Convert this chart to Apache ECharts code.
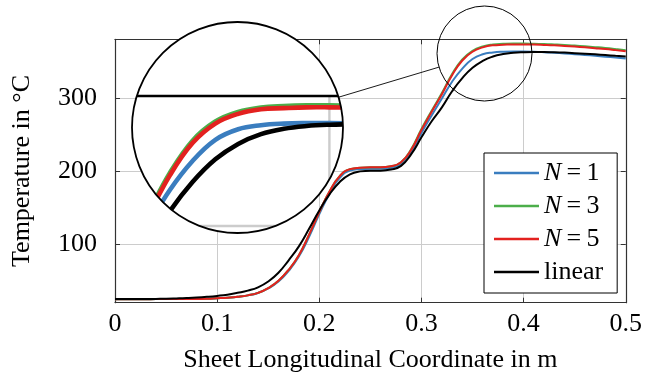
<!DOCTYPE html>
<html>
<head>
<meta charset="utf-8">
<script src="https://cdn.jsdelivr.net/npm/echarts@6/dist/echarts.min.js"></script>
<style>
  html, body { margin: 0; padding: 0; background: #fff; }
  #chart { width: 645px; height: 379px; }
</style>
</head>
<body>
<div id="chart"></div>
<script>
// sheet coordinate in m
var xCoord = [0, 0.01, 0.02, 0.03, 0.04, 0.05, 0.06, 0.07, 0.08, 0.09,
  0.10, 0.11, 0.12, 0.13, 0.14, 0.15, 0.16, 0.17, 0.18, 0.19,
  0.20, 0.21, 0.22, 0.23, 0.24, 0.25, 0.26, 0.27, 0.28, 0.29,
  0.30, 0.31, 0.32, 0.33, 0.34, 0.35, 0.36, 0.37, 0.38, 0.39,
  0.40, 0.41, 0.42, 0.43, 0.44, 0.45, 0.46, 0.47, 0.48, 0.49, 0.50];

// temperatures (degC)
var tN1 = [24.8, 24.8, 24.8, 24.8, 24.9, 24.9, 25, 25, 25.1, 25.3,
  26, 26.8, 28, 30, 33.3, 39.5, 49, 63.5, 83, 110,
  141, 169, 190.5, 200.5, 202.5, 203, 203, 204.5, 210, 226.5,
  252, 276, 299, 322, 340, 353, 359.5, 362, 363, 363.3,
  363.3, 363, 362.4, 361.6, 360.7, 359.7, 358.6, 357.5, 356.3, 355.1, 353.8];
var tN3 = [24.8, 24.8, 24.8, 24.8, 24.9, 24.9, 25, 25, 25.1, 25.3,
  26, 26.8, 28, 30, 33.5, 40, 50, 65, 85, 113,
  144, 172, 193, 202.5, 204.5, 205, 205, 206.5, 212, 230,
  257.5, 282.5, 306.5, 332.5, 352.5, 364.3, 370.2, 372.9, 373.8, 374.2,
  374.2, 374, 373.6, 373, 372.3, 371.4, 370.4, 369.3, 368.1, 366.7, 365.2];
var tN5 = [24.8, 24.8, 24.8, 24.8, 24.9, 24.9, 25, 25, 25.1, 25.3,
  26, 26.8, 28, 30, 33.5, 40, 50, 65, 85, 113,
  144, 172, 193, 202.5, 204.5, 205, 205, 206.5, 212, 229,
  256, 281, 305, 331, 351, 363, 369, 371.8, 372.5, 373,
  373, 372.8, 372.3, 371.7, 370.9, 370, 369, 367.9, 366.7, 365.2, 363.6];
var tLinear = [25, 25, 25, 25, 25.2, 25.4, 25.8, 26.3, 27, 28,
  29.3, 31, 33.5, 36.5, 41, 49, 61, 78, 97, 121,
  146, 168, 185, 195.5, 199.5, 200.5, 200.5, 202, 207, 223,
  246, 268, 287, 309, 327, 341, 350.5, 356.5, 359.8, 361.5,
  362.3, 362.6, 362.6, 362.3, 361.8, 361.1, 360.3, 359.4, 358.4, 357.4, 356.4];

var xTicks = [0, 0.1, 0.2, 0.3, 0.4, 0.5];
var yTicks = [100, 200, 300];

var seriesNames = ['N=1', 'N=3', 'N=5', 'linear'];
var seriesColors = ['#3a7dbf', '#4cae4a', '#e3211f', '#000000'];
var seriesTemps = [tN1, tN3, tN5, tLinear];

var FONT = 'Liberation Serif';
var AXIS_COLOR = '#333';
var GRID_COLOR = '#cccccc';

// plot frame and lens layout (pixels)
var plot = {left: 115, top: 39.3, width: 513.6, height: 263.4};
var xMin = 0, xMax = 0.5, yMin = 20, yMax = 380;
var spot = {cx: 484.5, cy: 53.5, r: 47.5};
var lens = {cx: 237.5, cy: 127.5, r: 105.5};
var mag = lens.r / spot.r;

var kx = plot.width / (xMax - xMin);
var ky = plot.height / (yMax - yMin);
var spotX = xMin + (spot.cx - plot.left) / kx;
var spotY = yMax - (spot.cy - plot.top) / ky;
var lensX0 = spotX - lens.r / (kx * mag), lensX1 = spotX + lens.r / (kx * mag);
var lensY0 = spotY - lens.r / (ky * mag), lensY1 = spotY + lens.r / (ky * mag);

function pairs(temps) {
  return xCoord.map(function(x, i) { return [x, temps[i]]; });
}

function renderLens(params, api) {
  var children = [];
  xTicks.forEach(function(v) {
    if (v > lensX0 && v < lensX1) {
      var a = api.coord([v, yMax]), b = api.coord([v, lensY0]);
      children.push({type: 'line', shape: {x1: a[0], y1: a[1], x2: b[0], y2: b[1]},
        style: {stroke: GRID_COLOR, lineWidth: 2.4}});
    }
  });
  yTicks.forEach(function(v) {
    if (v > lensY0 && v < yMax) {
      var a = api.coord([lensX0, v]), b = api.coord([Math.min(lensX1, xMax), v]);
      children.push({type: 'line', shape: {x1: a[0], y1: a[1], x2: b[0], y2: b[1]},
        style: {stroke: GRID_COLOR, lineWidth: 2.4}});
    }
  });
  var t0 = api.coord([lensX0, yMax]), t1 = api.coord([lensX1, yMax]);
  children.push({type: 'line', shape: {x1: t0[0], y1: t0[1], x2: t1[0], y2: t1[1]},
    style: {stroke: '#000', lineWidth: 2.6}});
  seriesTemps.forEach(function(temps, s) {
    var pts = [];
    xCoord.forEach(function(x, i) {
      if (x > lensX0 - 0.03 && x < lensX1 + 0.03) pts.push(api.coord([x, temps[i]]));
    });
    children.push({type: 'polyline', shape: {points: pts, smooth: 0.4},
      style: {stroke: seriesColors[s], lineWidth: 4.6, fill: null}});
  });
  return {
    type: 'group',
    clipPath: {type: 'circle', shape: {cx: lens.cx, cy: lens.cy, r: lens.r}},
    children: children
  };
}

var series = seriesNames.map(function(name, s) {
  return {
    name: name,
    type: 'line',
    xAxisIndex: 0,
    yAxisIndex: 0,
    data: pairs(seriesTemps[s]),
    smooth: true,
    showSymbol: false,
    symbol: 'none',
    color: seriesColors[s],
    lineStyle: {width: 2, color: seriesColors[s]},
    z: 2,
    silent: true
  };
});
series.push({
  type: 'custom',
  coordinateSystem: 'cartesian2d',
  xAxisIndex: 1,
  yAxisIndex: 1,
  data: [[spotX, spotY]],
  renderItem: renderLens,
  clip: false,
  silent: true,
  z: 20
});

var dx = spot.cx - lens.cx, dy = spot.cy - lens.cy;
var dl = Math.sqrt(dx * dx + dy * dy);
var ux = dx / dl, uy = dy / dl;

var frameLine = {show: true, onZero: false, lineStyle: {color: AXIS_COLOR, width: 1.2}};
var tickStyle = {color: AXIS_COLOR, width: 1};

var option = {
  animation: false,
  backgroundColor: '#fff',
  grid: [
    {left: plot.left, top: plot.top, width: plot.width, height: plot.height},
    {left: lens.cx - lens.r, top: lens.cy - lens.r, width: 2 * lens.r, height: 2 * lens.r, show: false}
  ],
  xAxis: [
    {
      gridIndex: 0, type: 'value', min: xMin, max: xMax, position: 'bottom',
      axisLine: frameLine,
      axisTick: {show: true, inside: true, length: 5, customValues: xTicks, lineStyle: tickStyle},
      axisLabel: {customValues: xTicks, margin: 8, color: '#000', fontFamily: FONT, fontSize: 26,
        formatter: function(v) { return v === 0 ? '0' : v.toFixed(1); }},
      splitLine: {show: true, lineStyle: {color: GRID_COLOR, width: 1}},
      name: 'Sheet Longitudinal Coordinate in m',
      nameLocation: 'middle',
      nameGap: 44,
      nameTextStyle: {color: '#000', fontFamily: FONT, fontSize: 26}
    },
    {gridIndex: 1, type: 'value', min: lensX0, max: lensX1, show: false},
    {
      gridIndex: 0, type: 'value', min: xMin, max: xMax, position: 'top',
      axisLine: frameLine,
      axisTick: {show: true, inside: true, length: 5, customValues: xTicks, lineStyle: tickStyle},
      axisLabel: {show: false},
      splitLine: {show: false}
    }
  ],
  yAxis: [
    {
      gridIndex: 0, type: 'value', min: yMin, max: yMax, position: 'left',
      axisLine: frameLine,
      axisTick: {show: true, inside: true, length: 5, customValues: yTicks, lineStyle: tickStyle},
      axisLabel: {customValues: yTicks, margin: 18, color: '#000', fontFamily: FONT, fontSize: 26},
      splitLine: {show: true, lineStyle: {color: GRID_COLOR, width: 1}},
      name: 'Temperature in °C',
      nameLocation: 'middle',
      nameGap: 80,
      nameTextStyle: {color: '#000', fontFamily: FONT, fontSize: 26}
    },
    {gridIndex: 1, type: 'value', min: lensY0, max: lensY1, show: false},
    {
      gridIndex: 0, type: 'value', min: yMin, max: yMax, position: 'right',
      axisLine: frameLine,
      axisTick: {show: true, inside: true, length: 5, customValues: yTicks, lineStyle: tickStyle},
      axisLabel: {show: false},
      splitLine: {show: false}
    }
  ],
  legend: {
    data: seriesNames,
    orient: 'vertical',
    left: 484,
    top: 153,
    icon: 'rect',
    itemWidth: 45,
    itemHeight: 2.5,
    itemGap: 7,
    padding: [7, 14, 8, 10],
    borderColor: '#000',
    borderWidth: 1,
    borderRadius: 0,
    backgroundColor: '#fff',
    selectedMode: false,
    z: 40,
    formatter: function(name) {
      if (name.indexOf('N=') === 0) return '{i|N}{t|\u2009=\u2009' + name.slice(2) + '}';
      return '{t|' + name + '}';
    },
    textStyle: {
      color: '#000', fontFamily: FONT, fontSize: 26,
      rich: {
        i: {fontStyle: 'italic', fontFamily: FONT, fontSize: 26, color: '#000'},
        t: {fontFamily: FONT, fontSize: 26, color: '#000'}
      }
    }
  },
  graphic: [
    {type: 'circle', silent: true, z: 10, shape: {cx: lens.cx, cy: lens.cy, r: lens.r}, style: {fill: '#fff'}},
    {type: 'circle', silent: true, z: 30, shape: {cx: lens.cx, cy: lens.cy, r: lens.r},
      style: {fill: null, stroke: '#000', lineWidth: 1.8}},
    {type: 'circle', silent: true, z: 30, shape: {cx: spot.cx, cy: spot.cy, r: spot.r},
      style: {fill: null, stroke: '#000', lineWidth: 1}},
    {type: 'line', silent: true, z: 30,
      shape: {x1: lens.cx + ux * lens.r, y1: lens.cy + uy * lens.r,
        x2: spot.cx - ux * spot.r, y2: spot.cy - uy * spot.r},
      style: {stroke: '#000', lineWidth: 0.9}}
  ],
  series: series
};

var chart = echarts.init(document.getElementById('chart'), null, {renderer: 'canvas'});
chart.setOption(option);
</script>
</body>
</html>
